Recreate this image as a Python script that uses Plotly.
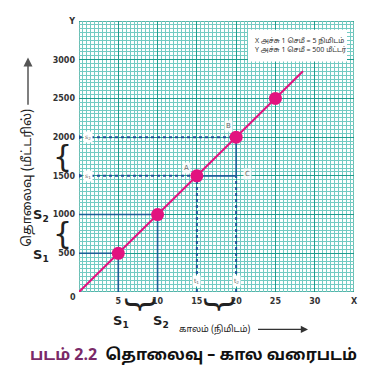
import plotly.graph_objects as go

# ---- data ----
time_min = [5, 10, 15, 20, 25]
distance_m = [500, 1000, 1500, 2000, 2500]
line_time = [0, 28.5]
line_dist = [0, 2850]
x_tickvals = [5, 10, 15, 20, 25, 30, 35]
x_ticktext = ["5", "10", "15", "20", "25", "30", "X"]
y_tickvals = [500, 1000, 1500, 2000, 2500, 3000, 3500]
y_ticktext = ["500", "1000", "1500", "2000", "2500", "3000", "Y"]

# ---- geometry (reference pixel coords; page body has an 8px margin) ----
OFF = 8
FIG_W, FIG_H = 362, 368
L, T, W, H = 79, 17, 275, 275
def px(x):
    return (x - L) / W
def py(y):
    return (T + H - y) / H

TAMIL = "Noto Sans Tamil, Lohit Tamil, Latha, Noto Sans, sans-serif"
BLUE = "#1f4f96"
MAG = "#e2127f"

fig = go.Figure()

# dotted projection lines (A=index 2, B=index 3)
iA, iB = 2, 3
dx, dy = [], []
for i in (iA, iB):
    dx += [0, time_min[i], None]
    dy += [distance_m[i], distance_m[i], None]
dx += [time_min[iA], time_min[iA], None, time_min[iB], time_min[iB], None]
dy += [0, distance_m[iA], None, 0, distance_m[iA], None]
fig.add_trace(go.Scatter(x=dx, y=dy, mode="lines",
                         line=dict(color=BLUE, width=2, dash="dot"),
                         hoverinfo="skip", showlegend=False))
fig.add_trace(go.Scatter(x=[0, 0], y=[distance_m[iA], distance_m[iB]], mode="markers",
                         marker=dict(color=BLUE, size=4), hoverinfo="skip", showlegend=False))

# solid projection lines
sx, sy = [], []
for i in (0, 1):
    sx += [0, time_min[i], time_min[i], None]
    sy += [distance_m[i], distance_m[i], 0, None]
sx += [time_min[iA], time_min[iB], time_min[iB]]
sy += [distance_m[iA], distance_m[iA], distance_m[iB]]
fig.add_trace(go.Scatter(x=sx, y=sy, mode="lines",
                         line=dict(color="#1d5f98", width=1.6),
                         hoverinfo="skip", showlegend=False))

# main line
fig.add_trace(go.Scatter(x=line_time, y=line_dist, mode="lines",
                         line=dict(color=MAG, width=2),
                         hoverinfo="skip", showlegend=False))
# points
fig.add_trace(go.Scatter(x=time_min, y=distance_m, mode="markers",
                         marker=dict(color=MAG, size=13),
                         hoverinfo="skip", showlegend=False))

ann = []
def add(text, x, y, size=8, color="#333", xanchor="center", yanchor="middle",
        family="DejaVu Sans", textangle=0, bg=None, xref="paper", yref="paper",
        weight="normal", **kw):
    d = dict(text=text, x=x, y=y, xref=xref, yref=yref, showarrow=False,
             font=dict(size=size, color=color, family=family, weight=weight),
             xanchor=xanchor, yanchor=yanchor, textangle=textangle)
    if bg:
        d.update(bgcolor=bg, borderpad=1)
    d.update(kw)
    ann.append(d)

# point labels
add("A", time_min[iA], distance_m[iA], size=7, color="#666", xref="x", yref="y",
    xshift=-10, yshift=8, bg="rgba(255,255,255,0.85)")
add("B", time_min[iB], distance_m[iB], size=7, color="#666", xref="x", yref="y",
    xshift=-8, yshift=11, bg="rgba(255,255,255,0.85)")
add("C", time_min[iB], distance_m[iA], size=7, color="#666", xref="x", yref="y",
    xshift=11, yshift=2, bg="rgba(255,255,255,0.85)")
# s1 s2 on y axis
add("s<sub>2</sub>", 0, distance_m[iB], size=6, color="#666", xref="x", yref="y",
    xshift=9, bg="white")
add("s<sub>1</sub>", 0, distance_m[iA], size=6, color="#666", xref="x", yref="y",
    xshift=9, bg="white")
# t1 t2 near x axis
add("t<sub>1</sub>", time_min[iA], 0, size=6, color="#666", xref="x", yref="y",
    yshift=11, bg="white")
add("t<sub>2</sub>", time_min[iB], 0, size=6, color="#666", xref="x", yref="y",
    yshift=11, bg="white")

# origin label
add("<b>0</b>", px(73), py(298), size=8)

# left side S labels and braces
add("<b>S<sub>2</sub></b>", px(41), py(214), size=13, color="#222")
add("<b>S<sub>1</sub></b>", px(41), py(255), size=13, color="#222")
add("{", px(62), py(233), size=30, color="#222")
add("{", px(62), py(155), size=30, color="#222")

# bottom S labels and braces
add("<b>S<sub>1</sub></b>", px(121), py(322), size=13, color="#222")
add("<b>S<sub>2</sub></b>", px(161), py(322), size=13, color="#222")
add("{", px(138), py(305), size=32, color="#222", textangle=-90)
add("{", px(217), py(305), size=32, color="#222", textangle=-90)

# axis titles
add("தொலைவு (மீட்டரில்)", px(28), py(176), size=13, color="#222",
    family=TAMIL, textangle=-90)
add("காலம் (நிமிடம்)", px(214), py(330), size=9, color="#222", family=TAMIL)

# legend text box
add("X அச்சு 1 செமீ = 5 நிமிடம்<br>Y அச்சு 1 செமீ = 500 மீட்டர்",
    px(253), py(42), size=7, color="#333", family=TAMIL, xanchor="left", align="left")

# caption
add("<span style='color:#7a2a68'>படம் 2.2</span>  தொலைவு – கால வரைபடம்",
    px(28), py(357), size=16, color="#111", family=TAMIL, xanchor="left",
    weight="bold")

shapes = [
    dict(type="rect", xref="paper", yref="paper", x0=px(248), x1=px(347),
         y0=py(58), y1=py(26), fillcolor="white", line=dict(width=0), layer="above"),
    dict(type="line", xref="paper", yref="paper", x0=px(28), x1=px(28),
         y0=py(102), y1=py(60), line=dict(color="#555", width=1.5)),
    dict(type="line", xref="paper", yref="paper", x0=px(258), x1=px(302),
         y0=py(330), y1=py(330), line=dict(color="#333", width=1.2)),
    dict(type="rect", xref="x", yref="y", x0=0, x1=35, y0=0, y1=3500,
         line=dict(color="#1f9c8d", width=1.3), layer="below"),
]

ann.append(dict(x=px(28), y=py(54), ax=0, ay=8, xref="paper", yref="paper",
                showarrow=True, arrowhead=2, arrowsize=1.2, arrowwidth=1.5,
                arrowcolor="#555", text=""))
ann.append(dict(x=px(308), y=py(330), ax=-8, ay=0, xref="paper", yref="paper",
                showarrow=True, arrowhead=2, arrowsize=1.2, arrowwidth=1.2,
                arrowcolor="#333", text=""))

axis_common = dict(
    showgrid=True, gridcolor="#1f9c8d", gridwidth=1.3,
    zeroline=False, showline=False, ticks="",
    tickfont=dict(size=8, color="#333", family="DejaVu Sans", weight="bold"),
    ticklabelstandoff=3,
    minor=dict(showgrid=True, gridcolor="#74cbc3", gridwidth=1),
    fixedrange=True,
)
fig.update_xaxes(range=[0, 35], tickvals=x_tickvals, ticktext=x_ticktext,
                 minor_dtick=0.5, minor_tick0=0, **axis_common)
fig.update_yaxes(range=[0, 3500], tickvals=y_tickvals, ticktext=y_ticktext,
                 minor_dtick=50, minor_tick0=0, **axis_common)

fig.update_layout(
    width=FIG_W, height=FIG_H, autosize=False,
    margin=dict(l=L - OFF, r=FIG_W - (L - OFF) - W, t=T - OFF, b=FIG_H - (T - OFF) - H),
    plot_bgcolor="white", paper_bgcolor="white",
    showlegend=False, shapes=shapes, annotations=ann,
)

fig.write_html("out.html", config=dict(displayModeBar=False))
